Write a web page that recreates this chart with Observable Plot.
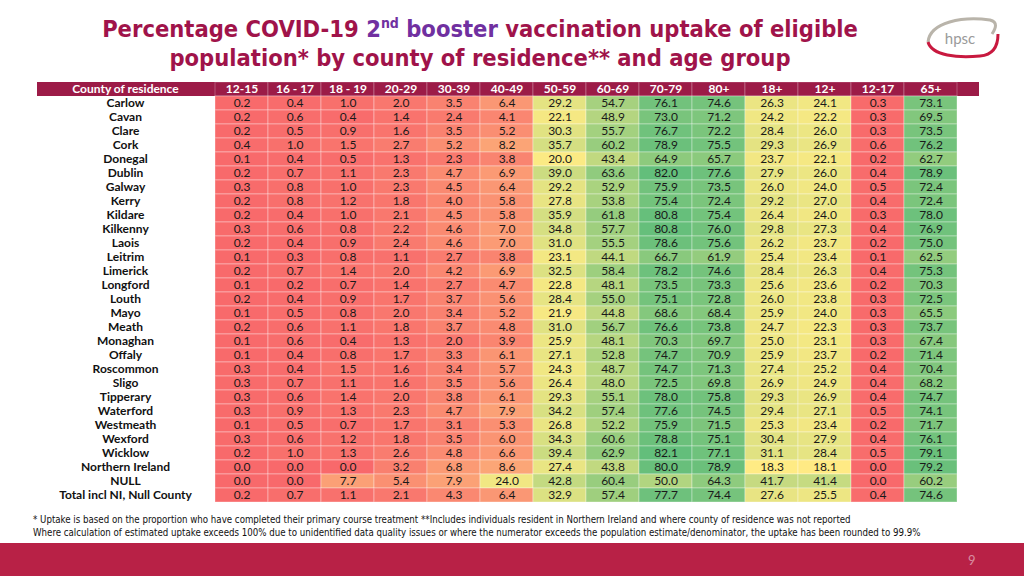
<!DOCTYPE html>
<html>
<head>
<meta charset="utf-8">
<script src="https://cdn.jsdelivr.net/npm/d3@7"></script>
<script src="https://cdn.jsdelivr.net/npm/@observablehq/plot@0.6"></script>
<style>
  html, body { margin: 0; padding: 0; background: #fff; width: 1024px; height: 576px; overflow: hidden; position: relative; }
  #title { position: absolute; left: 0; top: 15px; width: 960px; text-align: center; font-family: "DejaVu Sans Condensed", "DejaVu Sans", sans-serif; font-weight: bold; font-size: 23.5px; line-height: 29px; color: #A0134A; }
  #title .p { color: #7030A0; }
  #title sup { font-size: 14px; line-height: 0; vertical-align: 9px; }
  #chart { position: absolute; left: 0; top: 68px; }
  .foot { position: absolute; left: 33px; font-family: "DejaVu Sans Condensed", "DejaVu Sans", sans-serif; font-size: 9.65px; color: #111; white-space: nowrap; }
  #bar { position: absolute; left: 0; top: 543px; width: 1024px; height: 33px; background: #B82146; }
  #page { position: absolute; left: 968px; top: 552px; font-family: "Lato", sans-serif; font-size: 13px; color: #d98ca0; }
  #logo { position: absolute; left: 918px; top: 12px; }
</style>
</head>
<body>
<div id="title">Percentage COVID-19 <span class="p">2<sup>nd</sup> booster</span> vaccination uptake of eligible<br>population* by county of residence** and age group</div>
<svg id="logo" width="86" height="52" viewBox="0 0 86 52">
  <path d="M10,30 C12,10 45,4 72,8 C80,10 78,16 74,22" fill="none" stroke="#b9b4aa" stroke-width="3"/>
  <path d="M10,30 C14,44 40,46 62,44 C74,43 80,36 80,22" fill="none" stroke="#c8193f" stroke-width="3"/>
  <text x="42" y="32" font-family="Lato, sans-serif" font-size="15" fill="#9a9a9a" text-anchor="middle">hpsc</text>
</svg>
<div id="chart"></div>
<div class="foot" style="top:514px">* Uptake is based on the proportion who have completed their primary course treatment **Includes individuals resident in Northern Ireland and where county of residence was not reported</div>
<div class="foot" style="top:527px">Where calculation of estimated uptake exceeds 100% due to unidentified data quality issues or where the numerator exceeds the population estimate/denominator, the uptake has been rounded to 99.9%</div>
<div id="bar"></div>
<div id="page">9</div>
<script>
const counties = ["Carlow","Cavan","Clare","Cork","Donegal","Dublin","Galway","Kerry","Kildare","Kilkenny","Laois","Leitrim","Limerick","Longford","Louth","Mayo","Meath","Monaghan","Offaly","Roscommon","Sligo","Tipperary","Waterford","Westmeath","Wexford","Wicklow","Northern Ireland","NULL","Total incl NI, Null County"];
const ageGroups = ["12-15","16 - 17","18 - 19","20-29","30-39","40-49","50-59","60-69","70-79","80+","18+","12+","12-17","65+"];

const v12_15 = [0.2,0.2,0.2,0.4,0.1,0.2,0.3,0.2,0.2,0.3,0.2,0.1,0.2,0.1,0.2,0.1,0.2,0.1,0.1,0.3,0.3,0.3,0.3,0.1,0.3,0.2,0.0,0.0,0.2];
const v16_17 = [0.4,0.6,0.5,1.0,0.4,0.7,0.8,0.8,0.4,0.6,0.4,0.3,0.7,0.2,0.4,0.5,0.6,0.6,0.4,0.4,0.7,0.6,0.9,0.5,0.6,1.0,0.0,0.0,0.7];
const v18_19 = [1.0,0.4,0.9,1.5,0.5,1.1,1.0,1.2,1.0,0.8,0.9,0.8,1.4,0.7,0.9,0.8,1.1,0.4,0.8,1.5,1.1,1.4,1.3,0.7,1.2,1.3,0.0,7.7,1.1];
const v20_29 = [2.0,1.4,1.6,2.7,1.3,2.3,2.3,1.8,2.1,2.2,2.4,1.1,2.0,1.4,1.7,2.0,1.8,1.3,1.7,1.6,1.6,2.0,2.3,1.7,1.8,2.6,3.2,5.4,2.1];
const v30_39 = [3.5,2.4,3.5,5.2,2.3,4.7,4.5,4.0,4.5,4.6,4.6,2.7,4.2,2.7,3.7,3.4,3.7,2.0,3.3,3.4,3.5,3.8,4.7,3.1,3.5,4.8,6.8,7.9,4.3];
const v40_49 = [6.4,4.1,5.2,8.2,3.8,6.9,6.4,5.8,5.8,7.0,7.0,3.8,6.9,4.7,5.6,5.2,4.8,3.9,6.1,5.7,5.6,6.1,7.9,5.3,6.0,6.6,8.6,24.0,6.4];
const v50_59 = [29.2,22.1,30.3,35.7,20.0,39.0,29.2,27.8,35.9,34.8,31.0,23.1,32.5,22.8,28.4,21.9,31.0,25.9,27.1,24.3,26.4,29.3,34.2,26.8,34.3,39.4,27.4,42.8,32.9];
const v60_69 = [54.7,48.9,55.7,60.2,43.4,63.6,52.9,53.8,61.8,57.7,55.5,44.1,58.4,48.1,55.0,44.8,56.7,48.1,52.8,48.7,48.0,55.1,57.4,52.2,60.6,62.9,43.8,60.4,57.4];
const v70_79 = [76.1,73.0,76.7,78.9,64.9,82.0,75.9,75.4,80.8,80.8,78.6,66.7,78.2,73.5,75.1,68.6,76.6,70.3,74.7,74.7,72.5,78.0,77.6,75.9,78.8,82.1,80.0,50.0,77.7];
const v80p   = [74.6,71.2,72.2,75.5,65.7,77.6,73.5,72.4,75.4,76.0,75.6,61.9,74.6,73.3,72.8,68.4,73.8,69.7,70.9,71.3,69.8,75.8,74.5,71.5,75.1,77.1,78.9,64.3,74.4];
const v18p   = [26.3,24.2,28.4,29.3,23.7,27.9,26.0,29.2,26.4,29.8,26.2,25.4,28.4,25.6,26.0,25.9,24.7,25.0,25.9,27.4,26.9,29.3,29.4,25.3,30.4,31.1,18.3,41.7,27.6];
const v12p   = [24.1,22.2,26.0,26.9,22.1,26.0,24.0,27.0,24.0,27.3,23.7,23.4,26.3,23.6,23.8,24.0,22.3,23.1,23.7,25.2,24.9,26.9,27.1,23.4,27.9,28.4,18.1,41.4,25.5];
const v12_17 = [0.3,0.3,0.3,0.6,0.2,0.4,0.5,0.4,0.3,0.4,0.2,0.1,0.4,0.2,0.3,0.3,0.3,0.3,0.2,0.4,0.4,0.4,0.5,0.2,0.4,0.5,0.0,0.0,0.4];
const v65p   = [73.1,69.5,73.5,76.2,62.7,78.9,72.4,72.4,78.0,76.9,75.0,62.5,75.3,70.3,72.5,65.5,73.7,67.4,71.4,70.4,68.2,74.7,74.1,71.7,76.1,79.1,79.2,60.2,74.6];

const columns = [v12_15, v16_17, v18_19, v20_29, v30_39, v40_49, v50_59, v60_69, v70_79, v80p, v18p, v12p, v12_17, v65p];
const headerLabel = "County of residence";
const HDR = "__header__";

const cells = [];
counties.forEach((county, i) => {
  ageGroups.forEach((age, j) => {
    cells.push({county, age, value: columns[j][i]});
  });
});

const maroon = "#9C1B47";
const font = "Lato, sans-serif";

const chart = Plot.plot({
  width: 1024,
  height: 448,
  marginLeft: 37,
  marginRight: 45,
  marginTop: 0,
  marginBottom: 0,
  style: {fontFamily: font, background: "transparent"},
  x: {type: "band", domain: ageGroups, range: [213, 959], padding: 0, axis: null},
  y: {type: "band", domain: [HDR, ...counties], range: [3, 444], padding: 0, axis: null},
  color: {type: "linear", domain: [0, 18.2, 82.1], range: ["#F8696B", "#FFEB84", "#63BE7B"], interpolate: "rgb"},
  marks: [
    Plot.cell([HDR], {y: d => d, fill: maroon}),
    Plot.cell(ageGroups, {x: d => d, y: () => HDR, fill: maroon, stroke: "#ffffff", strokeOpacity: 0.25}),
    Plot.text(ageGroups, {x: d => d, y: () => HDR, text: d => d, fill: "white", fontWeight: "bold", fontSize: 12}),
    Plot.text([headerLabel], {y: () => HDR, frameAnchor: "left", dx: 88, textAnchor: "middle", text: d => d, fill: "white", fontWeight: "bold", fontSize: 12}),
    Plot.cell(cells, {x: "age", y: "county", fill: "value", stroke: "#ffffff", strokeOpacity: 0.35}),
    Plot.text(cells, {x: "age", y: "county", text: d => d.value.toFixed(1), fill: "#1a1a1a", fontSize: 12}),
    Plot.text(counties, {y: d => d, frameAnchor: "left", dx: 88, textAnchor: "middle", text: d => d, fill: "#111", fontWeight: "bold", fontSize: 12})
  ]
});
document.getElementById("chart").appendChild(chart);
</script>
</body>
</html>
